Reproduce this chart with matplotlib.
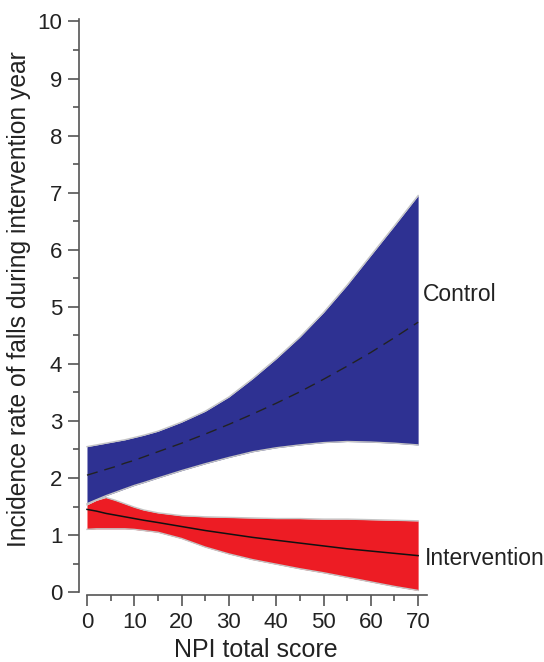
import matplotlib.pyplot as plt
import numpy as np

plt.rcParams['font.family'] = ['Liberation Sans', 'DejaVu Sans']

# values
npi = [0, 2, 4, 6, 8, 10, 12, 15, 20, 25, 30, 35, 40, 45, 50, 55, 60, 65, 70]
control_mean = [2.05, 2.10, 2.15, 2.20, 2.26, 2.31, 2.37, 2.46, 2.61, 2.77, 2.94, 3.12,
                3.31, 3.51, 3.73, 3.96, 4.20, 4.46, 4.73]
control_upper = [2.55, 2.58, 2.61, 2.64, 2.67, 2.71, 2.75, 2.82, 2.98, 3.17, 3.42, 3.74,
                 4.09, 4.47, 4.90, 5.38, 5.90, 6.42, 6.95]
control_lower = [1.55, 1.62, 1.69, 1.75, 1.81, 1.87, 1.92, 2.00, 2.13, 2.25, 2.36, 2.46,
                 2.53, 2.58, 2.62, 2.64, 2.63, 2.61, 2.58]
interv_mean = [1.45, 1.42, 1.38, 1.35, 1.32, 1.29, 1.26, 1.22, 1.15, 1.08, 1.02, 0.96,
               0.91, 0.86, 0.81, 0.76, 0.72, 0.68, 0.64]
interv_upper = [1.53, 1.61, 1.66, 1.61, 1.55, 1.49, 1.44, 1.39, 1.34, 1.32, 1.31, 1.30,
                1.29, 1.29, 1.28, 1.28, 1.27, 1.26, 1.25]
interv_lower = [1.10, 1.11, 1.11, 1.11, 1.11, 1.10, 1.08, 1.05, 0.94, 0.79, 0.67, 0.57,
                0.49, 0.41, 0.34, 0.26, 0.18, 0.10, 0.03]

blue = '#2e3192'
red = '#ed1c24'
edge = '#c4c4c4'
txt = '#222222'

fig = plt.figure(figsize=(5.44, 6.62), dpi=100)
ax = fig.add_axes([0.1452, 0.1012, 0.6408, 0.8707])

ax.fill_between(npi, control_lower, control_upper, color=blue, lw=0)
ax.plot(npi, control_upper, color=edge, lw=1)
ax.plot(npi, control_lower, color=edge, lw=1)
ax.fill_between(npi, interv_lower, interv_upper, color=red, lw=0)
ax.plot(npi, interv_upper, color=edge, lw=1)
ax.plot(npi, interv_lower, color=edge, lw=1)

ax.plot(npi, control_mean, color='#222222', lw=1, dashes=(8, 5))
ax.plot(npi, interv_mean, color='#111111', lw=1.1)

ax.text(71.0, 5.11, 'Control', fontsize=16.5, va='baseline', ha='left', color=txt, clip_on=False)
ax.text(71.4, 0.47, 'Intervention', fontsize=16.5, va='baseline', ha='left', color=txt, clip_on=False)

ax.set_xlim(-1.69, 72)
ax.set_ylim(-0.05, 10.05)

for s in ['top', 'right']:
    ax.spines[s].set_visible(False)
ax.spines['left'].set_bounds(0, 10.05)
ax.spines['bottom'].set_bounds(0, 71.9)
for s in ['left', 'bottom']:
    ax.spines[s].set_color('#555555')
    ax.spines[s].set_linewidth(1.2)

ax.set_xticks(np.arange(0, 71, 10))
ax.set_xticks(np.arange(5, 71, 10), minor=True)
ax.set_yticks(np.arange(0, 11, 1))
ax.set_yticks(np.arange(0.5, 10, 1), minor=True)
ax.tick_params(which='major', length=8, width=1.2, color='#555555', labelsize=16,
               labelcolor=txt, pad=4)
ax.tick_params(which='minor', length=4, width=1.2, color='#555555')

fig.text(256 / 544, 5 / 662, 'NPI total score', fontsize=18, color=txt,
         ha='center', va='baseline')
fig.text(26 / 544, 1 - 299 / 662, 'Incidence rate of falls during intervention year',
         fontsize=17.7, color=txt, rotation=90, rotation_mode='anchor',
         ha='center', va='baseline')

fig.savefig('out.png', dpi=100)
